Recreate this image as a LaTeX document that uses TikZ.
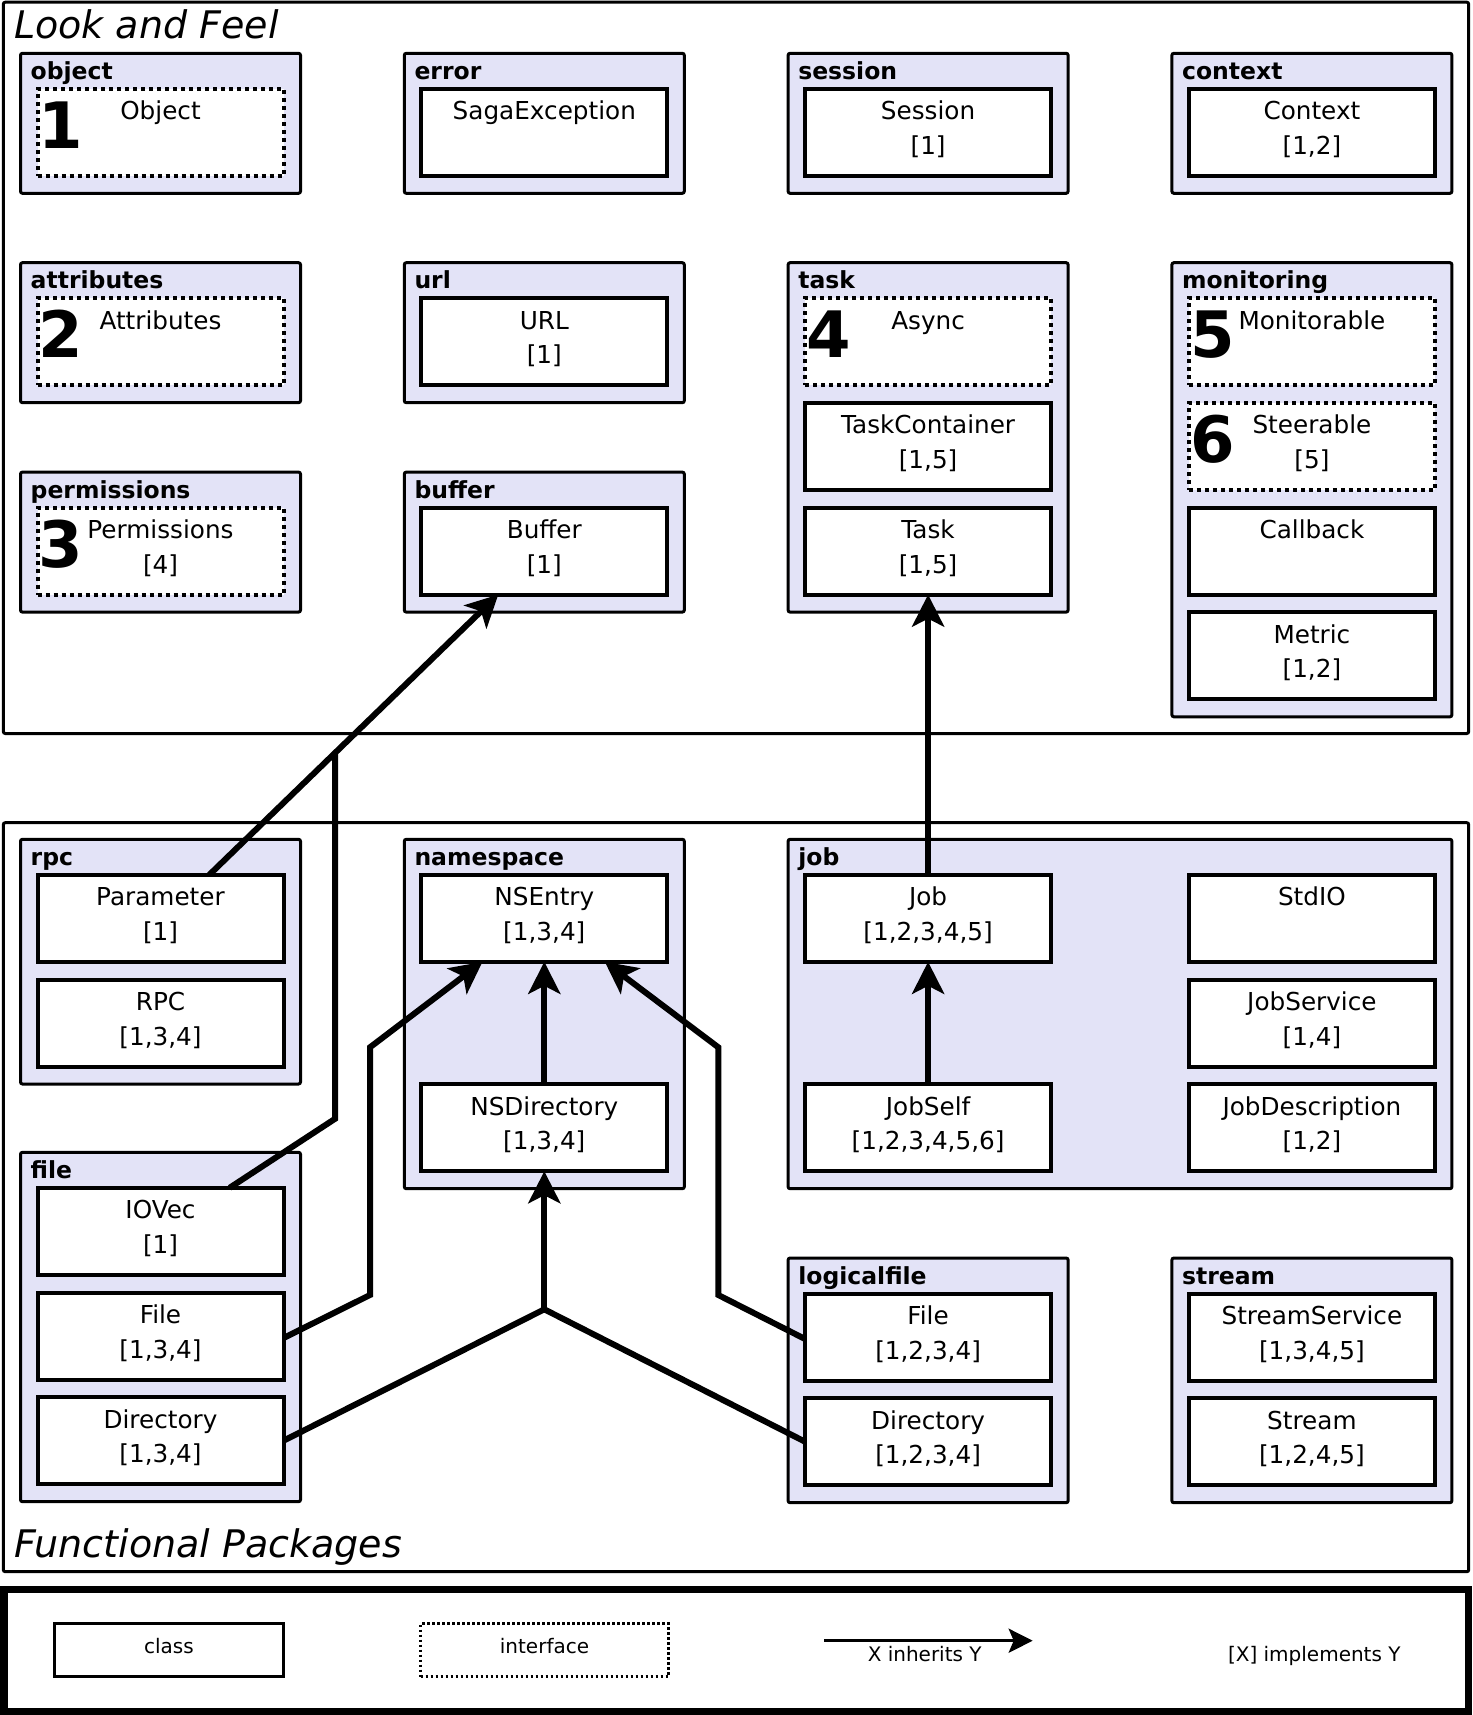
\documentclass[tikz,border=0pt]{standalone}
\usepackage{fontspec}
\setmainfont{DejaVu Sans}
\usetikzlibrary{arrows.meta,calc}
\definecolor{pkgfill}{RGB}{227,227,247}
\tikzset{
  pkgbox/.style={draw=black, line width=3pt, fill=pkgfill, rounded corners=2pt, minimum width=280pt, inner sep=0pt, outer sep=0pt, anchor=north west},
  clsbox/.style={draw=black, line width=4pt, fill=white, minimum width=246pt, minimum height=87pt, inner sep=0pt, outer sep=0pt, anchor=north},
  ifcbox/.style={clsbox, dash pattern=on 4pt off 4pt},
  pkglabel/.style={anchor=base west, inner sep=0pt, font=\fontsize{23.5}{28}\selectfont\bfseries},
  clstext/.style={anchor=base, inner sep=0pt, font=\fontsize{24.7}{30}\selectfont},
  bignum/.style={anchor=base west, inner sep=0pt, font=\fontsize{64}{70}\selectfont\bfseries},
  frame/.style={draw=black, line width=3pt, rounded corners=2pt},
  inherit/.style={line width=6pt, -{Stealth[length=32pt,width=32pt,inset=8pt]}},
  link/.style={line width=6pt},
  titletext/.style={anchor=base west, inner sep=0pt, font=\fontsize{38}{45}\selectfont\itshape},
  legtext/.style={anchor=base, inner sep=0pt, font=\fontsize{20}{24}\selectfont},
}
% package: name, label, x, y, height
\newcommand\pkgnode[5]{%
  \node[pkgbox, minimum height=#5pt] (#1) at (#3,#4) {};
  \node[pkglabel] (#1-lbl) at ($(#1.north west)+(10,26)$) {#2};
}
% class/interface box: style, name, cx, top, line1, line2
\newcommand\clsnode[6]{%
  \node[#1] (#2) at (#3,#4) {};
  \node[clstext] (#2-a) at ($(#2.north)+(0,31)$) {#5};
  \node[clstext] (#2-b) at ($(#2.north)+(0,65.5)$) {#6};
}
\newcommand\numnode[2]{%
  \node[bignum] (#1-num) at ($(#1.north west)+(1,59.5)$) {#2};
}
\begin{document}
\begin{tikzpicture}[x=1pt,y=-1pt]
\useasboundingbox (0,0) rectangle (1472,1715);

% frames
\draw[frame] (3.3,2.2) rectangle (1468.7,733.5);
\draw[frame] (3.3,822.7) rectangle (1468.7,1571.7);
\draw[draw=black, line width=7pt] (4,1589.7) rectangle (1468,1711.7);
\node[titletext] (lookfeel) at (14,38.5) {Look and Feel};
\node[titletext] (functional) at (14,1557.5) {Functional Packages};

% ---- Look and Feel packages
\pkgnode{pobject}{object}{20.5}{53.3}{140}
\clsnode{ifcbox}{Object}{160.5}{88.8}{Object}{}
\numnode{Object}{1}

\pkgnode{perror}{error}{404.3}{53.3}{140}
\clsnode{clsbox}{SagaException}{544.3}{88.8}{SagaException}{}

\pkgnode{psession}{session}{788.1}{53.3}{140}
\clsnode{clsbox}{Session}{928.1}{88.8}{Session}{[1]}

\pkgnode{pcontext}{context}{1171.9}{53.3}{140}
\clsnode{clsbox}{Context}{1311.9}{88.8}{Context}{[1,2]}

\pkgnode{pattributes}{attributes}{20.5}{262.7}{140}
\clsnode{ifcbox}{Attributes}{160.5}{298.2}{Attributes}{}
\numnode{Attributes}{2}

\pkgnode{purl}{url}{404.3}{262.7}{140}
\clsnode{clsbox}{URL}{544.3}{298.2}{URL}{[1]}

\pkgnode{ptask}{task}{788.1}{262.7}{349.4}
\clsnode{ifcbox}{Async}{928.1}{298.2}{Async}{}
\numnode{Async}{4}
\clsnode{clsbox}{TaskContainer}{928.1}{402.9}{TaskContainer}{[1,5]}
\clsnode{clsbox}{Task}{928.1}{507.6}{Task}{[1,5]}

\pkgnode{pmonitoring}{monitoring}{1171.9}{262.7}{454.1}
\clsnode{ifcbox}{Monitorable}{1311.9}{298.2}{Monitorable}{}
\numnode{Monitorable}{5}
\clsnode{ifcbox}{Steerable}{1311.9}{402.9}{Steerable}{[5]}
\numnode{Steerable}{6}
\clsnode{clsbox}{Callback}{1311.9}{507.6}{Callback}{}
\clsnode{clsbox}{Metric}{1311.9}{612.3}{Metric}{[1,2]}

\pkgnode{ppermissions}{permissions}{20.5}{472.1}{140}
\clsnode{ifcbox}{Permissions}{160.5}{507.6}{Permissions}{[4]}
\numnode{Permissions}{3}

\pkgnode{pbuffer}{buffer}{404.3}{472.1}{140}
\clsnode{clsbox}{Buffer}{544.3}{507.6}{Buffer}{[1]}

% ---- Functional packages
\pkgnode{prpc}{rpc}{20.5}{839.3}{244.7}
\clsnode{clsbox}{Parameter}{160.5}{874.8}{Parameter}{[1]}
\clsnode{clsbox}{RPC}{160.5}{979.5}{RPC}{[1,3,4]}

\pkgnode{pnamespace}{namespace}{404.3}{839.3}{349.4}
\clsnode{clsbox}{NSEntry}{544.3}{874.8}{NSEntry}{[1,3,4]}
\clsnode{clsbox}{NSDirectory}{544.3}{1084.2}{NSDirectory}{[1,3,4]}

\node[pkgbox, minimum height=349.4pt, minimum width=663.8pt] (pjob) at (788.1,839.3) {};
\node[pkglabel] (pjob-lbl) at ($(pjob.north west)+(10,26)$) {job};
\clsnode{clsbox}{Job}{928.1}{874.8}{Job}{[1,2,3,4,5]}
\clsnode{clsbox}{JobSelf}{928.1}{1084.2}{JobSelf}{[1,2,3,4,5,6]}
\clsnode{clsbox}{StdIO}{1311.9}{874.8}{StdIO}{}
\clsnode{clsbox}{JobService}{1311.9}{979.5}{JobService}{[1,4]}
\clsnode{clsbox}{JobDescription}{1311.9}{1084.2}{JobDescription}{[1,2]}

\pkgnode{pfile}{file}{20.5}{1152.3}{349.4}
\clsnode{clsbox}{IOVec}{160.5}{1187.8}{IOVec}{[1]}
\clsnode{clsbox}{fileFile}{160.5}{1292.5}{File}{[1,3,4]}
\clsnode{clsbox}{fileDir}{160.5}{1397.2}{Directory}{[1,3,4]}

\pkgnode{plogicalfile}{logicalfile}{788.1}{1258}{244.7}
\clsnode{clsbox}{lfFile}{928.1}{1293.5}{File}{[1,2,3,4]}
\clsnode{clsbox}{lfDir}{928.1}{1398.2}{Directory}{[1,2,3,4]}

\pkgnode{pstream}{stream}{1171.9}{1258}{244.7}
\clsnode{clsbox}{StreamService}{1311.9}{1293.5}{StreamService}{[1,3,4,5]}
\clsnode{clsbox}{Stream}{1311.9}{1398.2}{Stream}{[1,2,4,5]}

% ---- connectors
\coordinate (parTop) at ($(Parameter.north)+(48.8,0)$);
\coordinate (bufTip) at ($(Buffer.south)+(-46,0)$);
\coordinate (pj) at ($(parTop)!0.435!(bufTip)$);
\draw[inherit] (parTop) -- (bufTip);
\coordinate (iovTop) at ($(IOVec.north)+(69.1,0)$);
\coordinate (iovRef) at (0,1118.8);
\coordinate (iovBend) at (pj |- iovRef);
\draw[link, line join=miter] (iovTop) -- (iovBend) -- (pj);

\draw[inherit] (Job.north) -- (Task.south);
\draw[inherit] (JobSelf.north) -- (Job.south);
\draw[inherit] (NSDirectory.north) -- (NSEntry.south);

\coordinate (ffB1) at (370,1295);
\coordinate (ffB2) at (370,1047.3);
\coordinate (nsTipL) at ($(NSEntry.south)+(-61.8,0)$);
\draw[inherit, line join=miter] ([yshift=-2pt]fileFile.east) -- (ffB1) -- (ffB2) -- (nsTipL);

\coordinate (lfB1) at (718.3,1295);
\coordinate (lfB2) at (718.3,1047.3);
\coordinate (nsTipR) at ($(NSEntry.south)+(60.5,0)$);
\draw[inherit, line join=miter] ([yshift=-2pt]lfFile.west) -- (lfB1) -- (lfB2) -- (nsTipR);

\coordinate (jn) at (544.3,1309.3);
\draw[link, line join=miter] (fileDir.east) -- (jn) -- (lfDir.west);
\draw[inherit] (jn) -- (NSDirectory.south);

% ---- legend
\node[draw=black, line width=3.5pt, minimum width=229pt, minimum height=53pt, inner sep=0pt, outer sep=0pt] (legClass) at (169,1650) {};
\node[legtext] (legClassT) at (169,1653.3) {class};
\node[draw=black, line width=3pt, dash pattern=on 2.5pt off 2.5pt, minimum width=248pt, minimum height=53pt, inner sep=0pt, outer sep=0pt] (legIfc) at (544.5,1650) {};
\node[legtext] (legIfcT) at (544.5,1653.3) {interface};
\coordinate (legA) at (824.3,1640.7);
\coordinate (legB) at (1032.7,1640.7);
\draw[line width=3.3pt, -{Stealth[length=24pt,width=24pt,inset=5pt]}] (legA) -- (legB);
\node[legtext] (legInh) at (924.7,1661.7) {X inherits Y};
\node[legtext] (legImp) at (1314.3,1661.7) {[X] implements Y};
\end{tikzpicture}
\end{document}
